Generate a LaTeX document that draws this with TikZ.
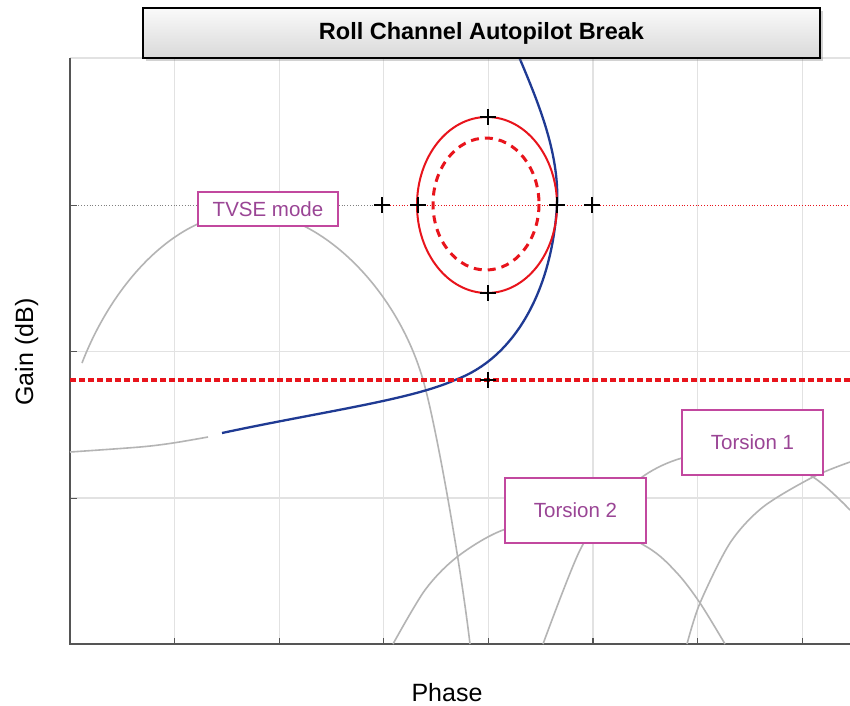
\documentclass[tikz,border=0pt]{standalone}
\usepackage{fontspec}
\setmainfont{Liberation Sans}
\usetikzlibrary{shadows}
\definecolor{navyline}{HTML}{1F3A93}
\definecolor{redline}{HTML}{E8141C}
\definecolor{modeframe}{HTML}{C2489F}
\definecolor{modetext}{HTML}{9A4595}
\definecolor{curvegray}{HTML}{B4B4B4}
\definecolor{gridgray}{HTML}{E2E2E2}
\definecolor{axisgray}{HTML}{555555}

\begin{document}
\begin{tikzpicture}[x=1pt,y=-1pt,
  modebox/.style={draw=modeframe,line width=1.5pt,fill=white,text=modetext,
    font=\fontsize{20.5}{24}\selectfont,minimum width=141pt,minimum height=65pt,inner sep=0pt},
  mode/.style={color=curvegray,line width=1.6pt},
  crossmark/.style={line width=2.2pt,color=black}]
\useasboundingbox (0,0) rectangle (850,705);
\fill[white] (0,0) rectangle (850,705);

\foreach \gx in {174.6,279.2,383.8,488.4,593,697.6,802.2}
  \draw[gridgray,line width=1.2pt] (\gx,58) -- (\gx,644);
\foreach \gy in {351.5,498}
  \draw[gridgray,line width=1.2pt] (70,\gy) -- (850,\gy);
\draw[gray,dotted,line width=0.8pt] (70,205) -- (382,205);
\draw[redline,dotted,line width=0.8pt] (382,205) -- (850,205);

\draw[gridgray,line width=1.2pt] (70,58) -- (850,58);
\draw[axisgray,line width=1.5pt] (70,58) -- (70,644) -- (850,644);
\foreach \gx in {174.6,279.2,383.8,488.4,593,697.6,802.2}
  \draw[axisgray,line width=1.2pt] (\gx,644) -- (\gx,638);
\foreach \gy in {205,351.5,498}
  \draw[axisgray,line width=1pt] (70,\gy) -- (77,\gy);

\draw[mode] (82,363) .. controls (112,285) and (175,212) .. (250,212)
  .. controls (320,212) and (400,290) .. (425,387)
  .. controls (437,432) and (460,560) .. (470,644);
\draw[mode] plot[smooth] coordinates {(70,452) (140,447) (173,443) (208,437)};
\draw[mode] plot[smooth] coordinates {(393,644) (425,590) (457,557) (503,530) (575,513)
  (647,547) (677,573) (700,603) (725,644)};
\draw[mode] plot[smooth] coordinates {(543,644) (580,550) (612,505) (645,475) (682,458)
  (748,446) (813,477) (850,510)};
\draw[mode] plot[smooth] coordinates {(687,644) (700,603) (730,543) (763,507) (813,477) (850,462)};

\draw[navyline,line width=2.3pt] (222,433) .. controls (320,412) and (410,400) .. (455,380)
  .. controls (515,358) and (552,290) .. (557,205)
  .. controls (560,150) and (535,95) .. (514,45);

\draw[redline,line width=3.5pt,dash pattern=on 6pt off 3pt] (70,380) -- (850,380);
\draw[redline,line width=2pt] (487,205) ellipse [x radius=70,y radius=88];
\draw[redline,line width=3pt,dash pattern=on 8pt off 6pt] (486,204) ellipse [x radius=53,y radius=66];

\foreach \cx/\cy in {488/117,488/293,418/205,557/205,382/205,592/205,488/380}
  \draw[crossmark] (\cx-8,\cy) -- (\cx+8,\cy) (\cx,\cy-8) -- (\cx,\cy+8);

\node[modebox,minimum width=140pt,minimum height=34pt] (tvse) at (268,209) {TVSE mode};
\node[modebox] (torsA) at (752.5,442.5) {Torsion 1};
\node[modebox] (torsB) at (575.5,510.5) {Torsion 2};

\node[draw=black,line width=2pt,top color=gray!4,bottom color=gray!30,
  minimum width=677pt,minimum height=50pt,
  drop shadow={shadow xshift=3pt,shadow yshift=-3pt,opacity=0.35},
  font=\bfseries\fontsize{23.5}{27}\selectfont] (title) at (481.5,33) {Roll Channel Autopilot Break};

\node[font=\fontsize{25}{30}\selectfont,rotate=90,anchor=base,inner sep=0pt] (gain) at (33,352) {Gain (dB)};
\node[font=\fontsize{25}{30}\selectfont,anchor=base,inner sep=0pt] (phase) at (447,701) {Phase};
\end{tikzpicture}
\end{document}
